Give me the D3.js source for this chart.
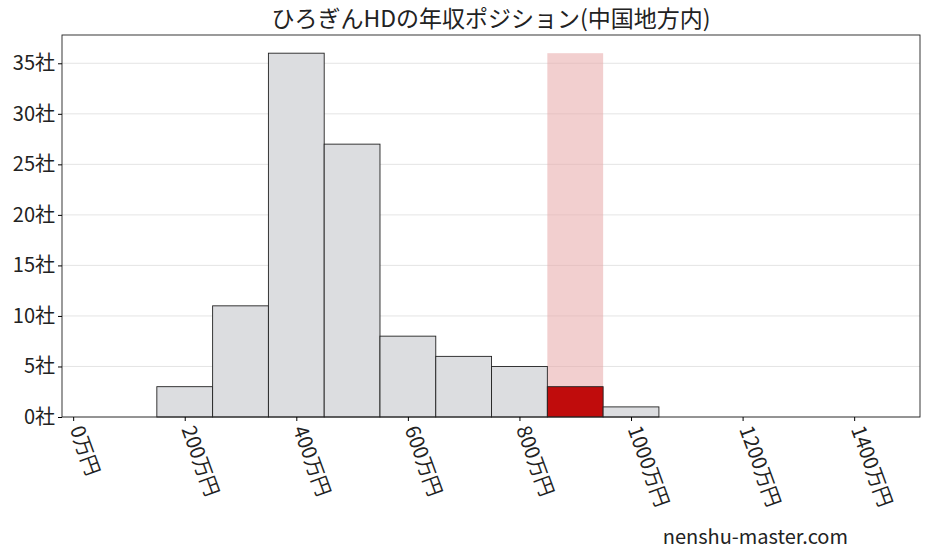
<!DOCTYPE html>
<html><head><meta charset="utf-8">
<script src="https://cdn.jsdelivr.net/npm/d3@7"></script>
<style>body{margin:0;background:#fff}text{font-family:"Noto Sans CJK JP",sans-serif}</style>
</head><body>
<svg id="c" width="928" height="557"></svg>
<script>
// bins (start of each 100万円 bin) and company counts
const binStarts = [150, 250, 350, 450, 550, 650, 750, 850, 950];
const counts = [3, 11, 36, 27, 8, 6, 5, 3, 1];
const highlightBin = 850;
const highlightHeight = 36;
const xTicks = [0, 200, 400, 600, 800, 1000, 1200, 1400];
const yTicks = [0, 5, 10, 15, 20, 25, 30, 35];

const svg = d3.select('#c');
const plotLeft = 62, plotRight = 920, plotTop = 35, plotBottom = 417;

const x = d3.scaleLinear().domain([-20, 1518]).range([plotLeft, plotRight]);
const y = d3.scaleLinear().domain([0, 37.8]).range([plotBottom, plotTop]);

//grid
svg.append('g').selectAll('line').data(yTicks).enter().append('line')
    .attr('x1', plotLeft).attr('x2', plotRight)
    .attr('y1', d => y(d)).attr('y2', d => y(d))
    .attr('stroke', '#ddd').attr('stroke-width', 0.8);

//highlight band
svg.append('rect')
    .attr('x', x(highlightBin)).attr('width', x(highlightBin + 100) - x(highlightBin))
    .attr('y', y(highlightHeight)).attr('height', plotBottom - y(highlightHeight))
    .attr('fill', '#e8a8a8').attr('opacity', 0.55);

//bars
svg.append('g').selectAll('rect').data(binStarts).enter().append('rect')
    .attr('x', d => x(d)).attr('width', d => x(d + 100) - x(d))
    .attr('y', (d, i) => y(counts[i])).attr('height', (d, i) => plotBottom - y(counts[i]))
    .attr('fill', d => d === highlightBin ? '#c00c0c' : '#dcdde0')
    .attr('stroke', '#222').attr('stroke-width', 0.9);

//frame
svg.append('rect').attr('x', plotLeft).attr('y', plotTop)
    .attr('width', plotRight - plotLeft).attr('height', plotBottom - plotTop)
    .attr('fill', 'none').attr('stroke', '#222').attr('stroke-width', 0.9);

//axes
const gy = svg.append('g').attr('transform', `translate(${plotLeft},0)`)
    .call(d3.axisLeft(y).tickValues(yTicks).tickSize(4).tickFormat(d => d + '社'));
gy.select('.domain').remove();
gy.selectAll('text').attr('font-size', 20).attr('fill', '#222');

const gx = svg.append('g').attr('transform', `translate(0,${plotBottom})`)
    .call(d3.axisBottom(x).tickValues(xTicks).tickSize(4).tickFormat(d => d + '万円'));
gx.select('.domain').remove();
gx.selectAll('text').attr('font-size', 20).attr('fill', '#222')
    .attr('text-anchor', 'start').attr('dy', 0).attr('y', 0)
    .attr('transform', 'translate(-4,12) rotate(70)');

//title
svg.append('text').attr('x', (plotLeft + plotRight) / 2).attr('y', 27).attr('text-anchor', 'middle')
    .attr('font-size', 23).attr('fill', '#222').text('ひろぎんHDの年収ポジション(中国地方内)');

svg.append('text').attr('x', 848).attr('y', 544).attr('text-anchor', 'end')
    .attr('font-size', 20).attr('fill', '#222').text('nenshu-master.com');
</script>
</body></html>
